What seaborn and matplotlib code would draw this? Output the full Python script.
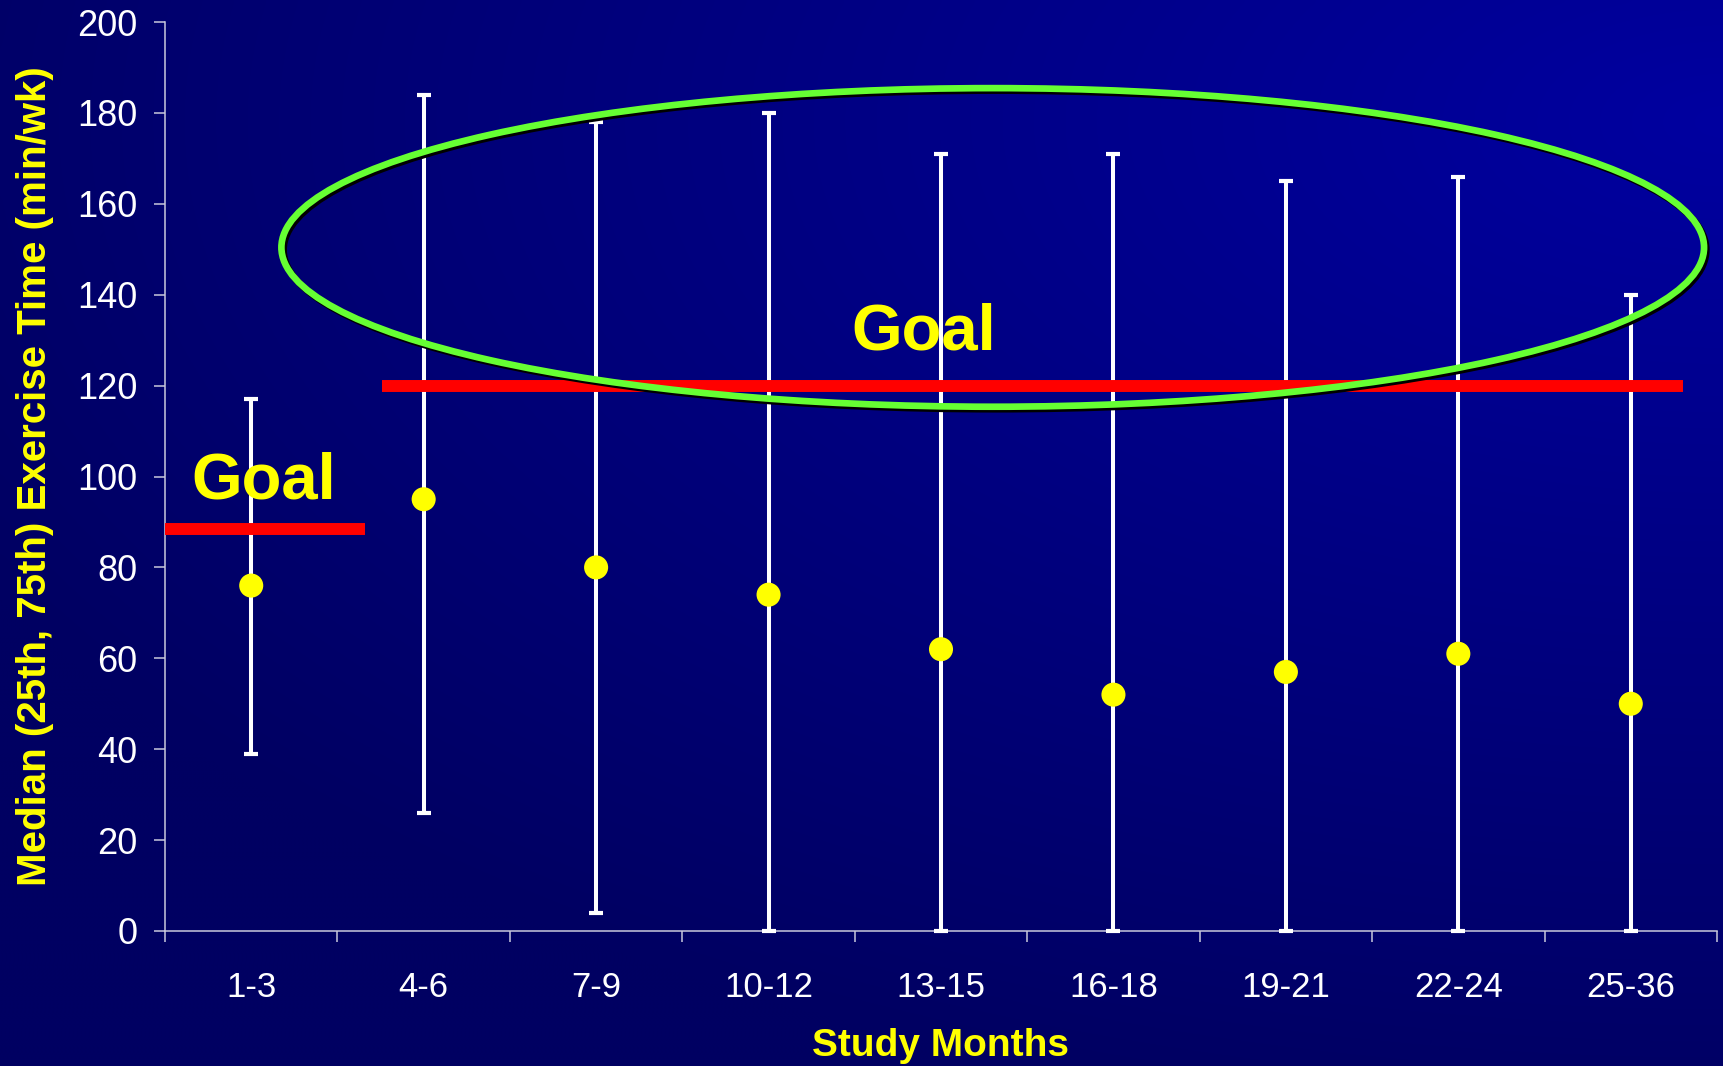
import numpy as np
import pandas as pd
import matplotlib
matplotlib.use("Agg")
import matplotlib.pyplot as plt
import matplotlib.patheffects as pe
from matplotlib.patches import Ellipse
import seaborn as sns

# ---- data -------------------------------------------------------------
months = ["1-3", "4-6", "7-9", "10-12", "13-15", "16-18", "19-21", "22-24", "25-36"]
median_min = [76, 95, 80, 74, 62, 52, 57, 61, 50]
p75_min = [117, 184, 178, 180, 171, 171, 165, 166, 140]
p25_min = [39, 26, 4, 0, 0, 0, 0, 0, 0]
goal_levels = [88.5, 120]

df = pd.DataFrame({"months": months, "median": median_min,
                   "p25": p25_min, "p75": p75_min})

# ---- style ------------------------------------------------------------
sns.set_style("ticks")
plt.rcParams["font.family"] = ["Liberation Sans", "DejaVu Sans"]

AXIS_COL = "#C8C8DC"
YELLOW = "#FFFF00"

fig = plt.figure(figsize=(17.24, 10.66), dpi=100)
fig.patch.set_facecolor("#000062")

# navy background, brighter toward the upper right
bg = fig.add_axes([0, 0, 1, 1], zorder=-5)
H, W = 267, 431
yy, xx = np.mgrid[0:H, 0:W]
px = xx * 1724 / W
py = yy * 1066 / H
d = np.sqrt(((1724 - px) / 1950) ** 2 + ((py - 120) / 1000) ** 2)
f = np.clip(1 - d, 0, 1)
img = np.zeros((H, W, 3))
img[..., 2] = (98 + 62 * f) / 255
bg.imshow(img, extent=[0, 1, 0, 1], aspect="auto", origin="upper", interpolation="bicubic")
bg.axis("off")

ax = fig.add_axes([165 / 1724, 1 - 931 / 1066, 1552 / 1724, 909 / 1066])
ax.set_facecolor("none")

# medians with 25th-75th percentile whiskers
x_pos = np.arange(len(months))
ax.errorbar(x_pos, df["median"],
            yerr=[df["median"] - df["p25"], df["p75"] - df["median"]],
            fmt="none", ecolor="white", elinewidth=2.9, capsize=5,
            capthick=3.0, zorder=3, clip_on=False)
sns.scatterplot(data=df, x="months", y="median", ax=ax, s=300,
                color=YELLOW, edgecolor="none", zorder=5, clip_on=False)

# goal lines
ax.plot([-0.5, 0.66], [goal_levels[0]] * 2, color="#FF0000", lw=8.6,
        solid_capstyle="butt", zorder=4)
ax.plot([0.76, 8.3], [goal_levels[1]] * 2, color="#FF0000", lw=8.6,
        solid_capstyle="butt", zorder=4)
ax.text(0.07, 95.2, "Goal", color=YELLOW, fontsize=47, fontweight="bold",
        ha="center", va="baseline", zorder=6)
ax.text(3.9, 127.9, "Goal", color=YELLOW, fontsize=47, fontweight="bold",
        ha="center", va="baseline", zorder=6)

# highlighted region of the later months
ring = Ellipse((4.3, 150.4), width=8.25, height=70.1, fill=False,
               edgecolor="#66FF33", lw=4.8, zorder=7, clip_on=False)
ring.set_path_effects([pe.SimpleLineShadow(offset=(1.6, -1.8), shadow_color="black", alpha=1.0),
                       pe.Normal()])
ax.add_patch(ring)

# axes
ax.set_xlim(-0.5, len(months) - 0.5)
ax.set_ylim(0, 200)
ax.set_yticks(np.arange(0, 201, 20))
ax.set_xticks(x_pos)
ax.set_xticklabels(months)
ax.set_xticks(np.arange(-0.5, len(months), 1), minor=True)
ax.tick_params(axis="x", which="major", length=0, pad=29, labelsize=25, labelcolor="white")
ax.tick_params(axis="x", which="minor", length=8, width=1.1, color=AXIS_COL, direction="out")
ax.tick_params(axis="y", length=8, width=1.1, color=AXIS_COL, direction="out",
               pad=12, labelsize=26, labelcolor="white")
for side in ("top", "right"):
    ax.spines[side].set_visible(False)
for side in ("left", "bottom"):
    ax.spines[side].set_color(AXIS_COL)
    ax.spines[side].set_linewidth(1.1)

ax.set_xlabel("Study Months", color=YELLOW, fontsize=28, fontweight="bold")
ax.set_ylabel("Median (25th, 75th) Exercise Time (min/wk)", color=YELLOW,
              fontsize=29, fontweight="bold")
ax.xaxis.set_label_coords(0.5, -0.126)
ax.xaxis.label.set_verticalalignment("center")
ax.yaxis.set_label_coords(-0.084, 0.5)
ax.yaxis.label.set_verticalalignment("center")

fig.savefig("out.png", dpi=100, facecolor=fig.get_facecolor())
